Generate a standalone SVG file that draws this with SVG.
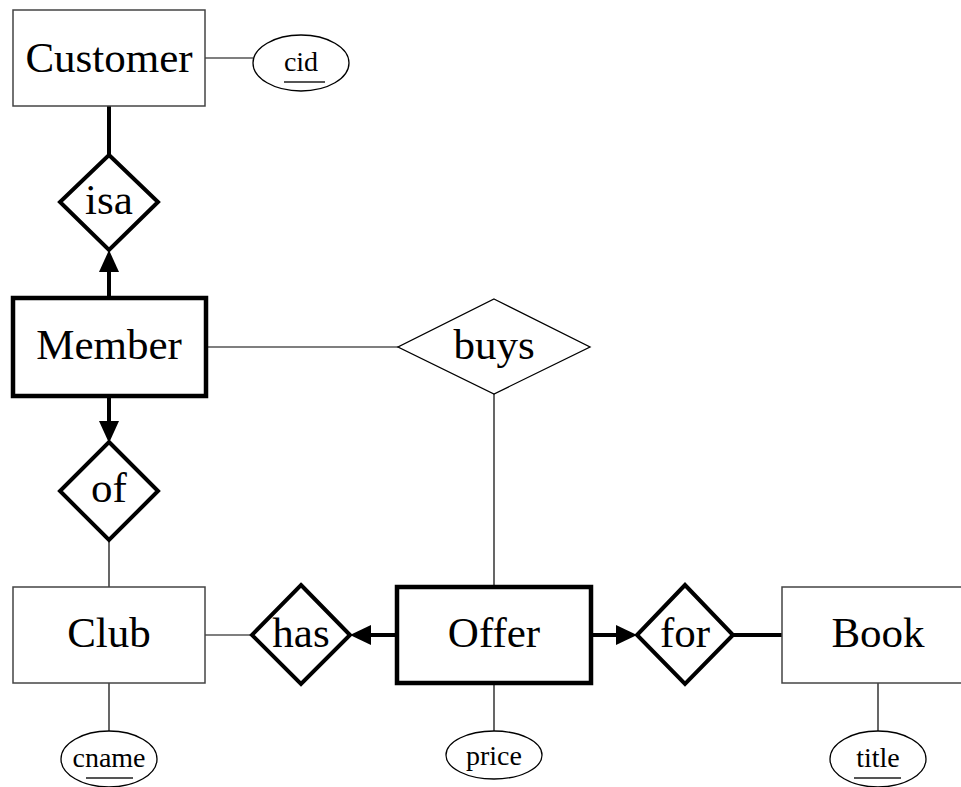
<svg xmlns="http://www.w3.org/2000/svg" width="961" height="787" viewBox="0 0 961 787">
<style>
.bg{fill:#fff}
.ent{fill:#fff;stroke:#444;stroke-width:1.5}
.went{fill:#fff;stroke:#000;stroke-width:4.5}
.rel{fill:#fff;stroke:#000;stroke-width:4}
.rel1{fill:#fff;stroke:#000;stroke-width:1.3}
.att{fill:#fff;stroke:#000;stroke-width:1.3}
text{font-family:'Liberation Serif','Times New Roman',serif;fill:#000;text-anchor:middle}
.lbl{font-size:43px}
.albl{font-size:28px}
.ul{stroke:#555;stroke-width:1.8}
.thin{stroke:#000;stroke-width:1.2;fill:none}
.thick{stroke:#000;stroke-width:4;fill:none}
.head{fill:#000;stroke:none}
</style>
<rect class="bg" x="0" y="0" width="961" height="787"/>
<g id="connectors">
  <line class="thin" x1="205" y1="58" x2="253" y2="58"/>
  <line class="thick" x1="109" y1="106" x2="109" y2="155"/>
  <line class="thick" x1="109" y1="298" x2="109" y2="268"/>
  <polygon class="head" points="109,250 99,272 119,272"/>
  <line class="thin" x1="206" y1="347" x2="398" y2="347"/>
  <line class="thin" x1="494" y1="394" x2="494" y2="587"/>
  <line class="thick" x1="109" y1="396" x2="109" y2="425"/>
  <polygon class="head" points="109,443 99,421 119,421"/>
  <line class="thin" x1="109" y1="540" x2="109" y2="587"/>
  <line class="thin" x1="205" y1="635" x2="252" y2="635"/>
  <line class="thick" x1="397" y1="635" x2="366" y2="635"/>
  <polygon class="head" points="350,635 371,625 371,645"/>
  <line class="thick" x1="591" y1="635" x2="621" y2="635"/>
  <polygon class="head" points="637,635 616,625 616,645"/>
  <line class="thick" x1="733" y1="635" x2="782" y2="635"/>
  <line class="thin" x1="109" y1="683" x2="109" y2="731"/>
  <line class="thin" x1="494" y1="683" x2="494" y2="731"/>
  <line class="thin" x1="878" y1="683" x2="878" y2="731"/>
</g>
<g id="customer">
  <rect class="ent" x="13" y="10" width="192" height="96"/>
  <text class="lbl" x="109" y="72">Customer</text>
</g>
<g id="cid">
  <ellipse class="att" cx="301" cy="63" rx="48" ry="28"/>
  <text class="albl" x="301" y="71">cid</text>
  <line class="ul" x1="284" y1="82" x2="325" y2="82"/>
</g>
<g id="isa">
  <polygon class="rel" points="109,155 158,202 109,250 60,202"/>
  <text class="lbl" x="109" y="214">isa</text>
</g>
<g id="member">
  <rect class="went" x="13" y="298" width="193" height="98"/>
  <text class="lbl" x="109" y="359">Member</text>
</g>
<g id="buys">
  <polygon class="rel1" points="494,299 590,347 494,394 398,347"/>
  <text class="lbl" x="494" y="359">buys</text>
</g>
<g id="of">
  <polygon class="rel" points="109,442 158,491 109,540 60,491"/>
  <text class="lbl" x="109" y="502">of</text>
</g>
<g id="club">
  <rect class="ent" x="13" y="587" width="192" height="96"/>
  <text class="lbl" x="109" y="647">Club</text>
</g>
<g id="has">
  <polygon class="rel" points="301,585 350,635 301,684 252,635"/>
  <text class="lbl" x="301" y="647">has</text>
</g>
<g id="offer">
  <rect class="went" x="397" y="587" width="194" height="96"/>
  <text class="lbl" x="494" y="647">Offer</text>
</g>
<g id="for">
  <polygon class="rel" points="685,585 733,635 685,684 637,635"/>
  <text class="lbl" x="685" y="647">for</text>
</g>
<g id="book">
  <rect class="ent" x="782" y="587" width="192" height="96"/>
  <text class="lbl" x="878" y="647">Book</text>
</g>
<g id="cname">
  <ellipse class="att" cx="109" cy="759" rx="48" ry="28"/>
  <text class="albl" x="109" y="767">cname</text>
  <line class="ul" x1="86" y1="778" x2="133" y2="778"/>
</g>
<g id="price">
  <ellipse class="att" cx="494" cy="755" rx="48" ry="24"/>
  <text class="albl" x="494" y="765">price</text>
</g>
<g id="title">
  <ellipse class="att" cx="878" cy="759" rx="48" ry="28"/>
  <text class="albl" x="878" y="767">title</text>
  <line class="ul" x1="854" y1="778" x2="901" y2="778"/>
</g>
</svg>
